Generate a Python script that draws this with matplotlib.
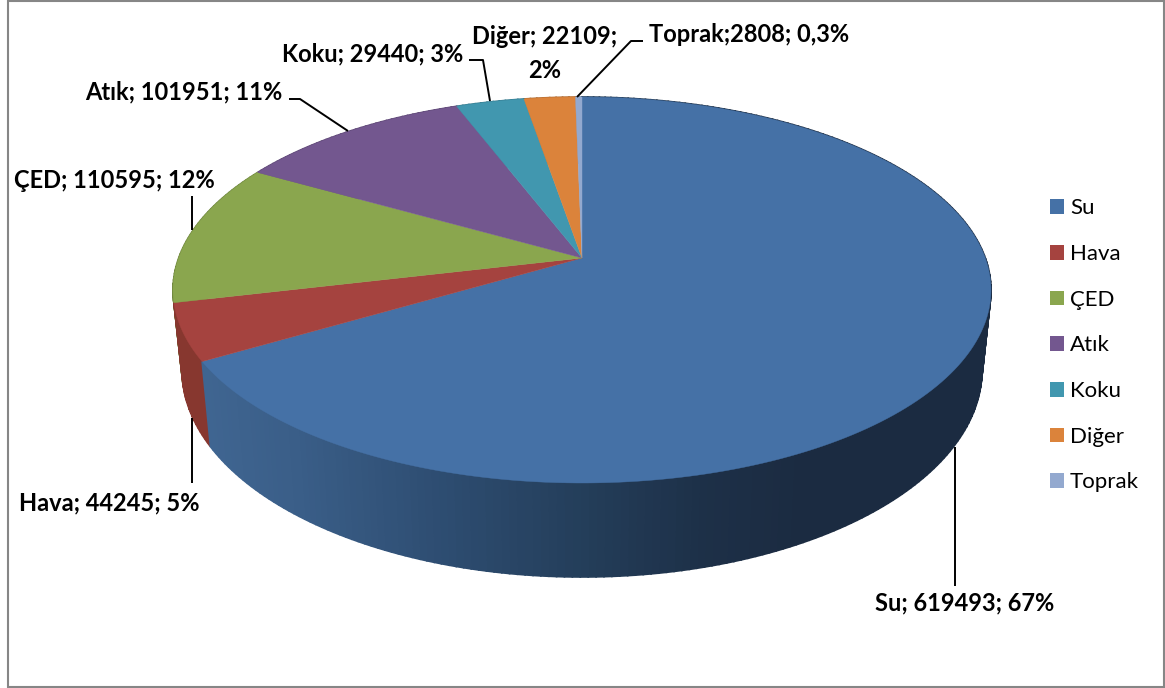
#!/usr/bin/env python3

import numpy as np
import matplotlib
matplotlib.use("Agg")
import matplotlib.pyplot as plt
from matplotlib.patches import Patch, Rectangle

# Data
categories = ["Su", "Hava", "ÇED", "Atık", "Koku", "Diğer", "Toprak"]
values = [619493, 44245, 110595, 101951, 29440, 22109, 2808]
percents = ["67%", "5%", "12%", "11%", "3%", "2%", "0,3%"]
colors = ["#4571A6", "#A5433F", "#8AA64E", "#73578F", "#4197AF", "#DB833B", "#93A9CF"]
side_colors = ["#2E4F75", "#87372F", "#6F863F", "#5C4673", "#34798D", "#B06A30", "#7688A6"]

plt.rcParams["font.family"] = ["Lato", "DejaVu Sans"]


def rim(theta):
    # circle seen in perspective: the centre of the pie sits above the centre of the ellipse
    a = -0.166
    x = np.sin(theta)
    y = -np.cos(theta)
    d = 1 + a * y
    return x * np.sqrt(1 - a * a) / d, (y + a) / d


def top_xy(u, v):
    return 582 + 409 * u, 290 + 193 * v


def bottom_xy(u, v):
    return 582 + 400 * u, 370 + 207 * v


def su_shade(x):
    # the side of the big slice darkens from left to right
    stops = [200, 300, 450, 582, 700, 800, 990]
    r = [64, 58, 45, 36, 29, 27, 27]
    g = [102, 94, 76, 62, 48, 43, 43]
    b = [146, 136, 112, 90, 72, 65, 65]
    return (np.interp(x, stops, r) / 255, np.interp(x, stops, g) / 255, np.interp(x, stops, b) / 255)


fig = plt.figure(figsize=(11.65, 6.88), dpi=100)
ax = fig.add_axes([0, 0, 1, 1])
ax.set_xlim(0, 1165)
ax.set_ylim(688, 0)
ax.axis("off")

# Chart frame
ax.add_patch(Rectangle((7.5, 0.8), 1156.5, 686.2, fill=False, edgecolor="#868686", linewidth=1.5))

edges = 2 * np.pi * np.concatenate([[0], np.cumsum(values)]) / np.sum(values)

# Side of the pie, back slices first
for i in range(len(values) - 1, -1, -1):
    n = max(int((edges[i + 1] - edges[i]) * 60), 2)
    t = np.linspace(edges[i], edges[i + 1], n + 1)
    u, v = rim(t)
    tx, ty = top_xy(u, v)
    bx, by = bottom_xy(u, v)
    for k in range(n):
        c = su_shade((bx[k] + bx[k + 1]) / 2) if i == 0 else side_colors[i]
        ax.fill([tx[k], tx[k + 1], bx[k + 1], bx[k]], [ty[k], ty[k + 1], by[k + 1], by[k]],
                color=c, linewidth=1.2)

# Top face
for i in range(len(values)):
    t = np.linspace(edges[i], edges[i + 1], 200)
    tx, ty = top_xy(*rim(t))
    ax.fill(np.r_[582, tx], np.r_[258, ty], color=colors[i], linewidth=0.3)

# Leader lines
leaders = [
    ([955, 955], [447, 586]),
    ([192, 192], [418, 483]),
    ([192, 192], [196, 230]),
    ([289, 300, 348], [99, 99, 131]),
    ([469, 483, 490], [60, 60, 101]),
    ([643, 631, 577], [41, 41, 97]),
]
for lx, ly in leaders:
    ax.plot(lx, ly, color="black", linewidth=1.4, solid_capstyle="butt")

# Data labels
label_style = dict(fontsize=17, fontweight="bold", color="black", va="center")
ax.text(965, 603, f"{categories[0]}; {values[0]}; {percents[0]}", ha="center", **label_style)
ax.text(109, 503, f"{categories[1]}; {values[1]}; {percents[1]}", ha="center", **label_style)
ax.text(114, 180, f"{categories[2]}; {values[2]}; {percents[2]}", ha="center", **label_style)
ax.text(184, 92, f"{categories[3]}; {values[3]}; {percents[3]}", ha="center", **label_style)
ax.text(373, 54, f"{categories[4]}; {values[4]}; {percents[4]}", ha="center", **label_style)
ax.text(545, 36, f"{categories[5]}; {values[5]};", ha="center", **label_style)
ax.text(545, 71, percents[5], ha="center", **label_style)
ax.text(749, 34, f"{categories[6]};{values[6]}; {percents[6]}", ha="center", **label_style)

# Legend
handles = [Patch(facecolor=c, edgecolor="none") for c in colors]
ax.legend(handles, categories, loc="center left", bbox_to_anchor=(1050 / 1165, 1 - 345.5 / 688),
          frameon=False, fontsize=16, handlelength=0.63, handleheight=0.63, handletextpad=0.27,
          labelspacing=1.155, borderpad=0, borderaxespad=0)

plt.savefig("out.png", dpi=100)
